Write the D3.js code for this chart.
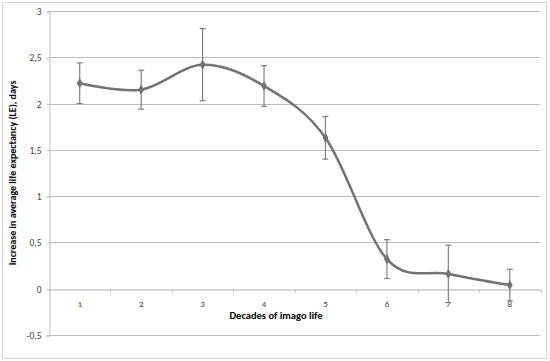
<!DOCTYPE html>
<html><head><meta charset="utf-8">
<script src="https://cdn.jsdelivr.net/npm/d3@7"></script>
<style>body{margin:0;background:#fff}svg{display:block}</style>
</head><body>
<script>
const categories = ["1","2","3","4","5","6","7","8"];
const values = [2.22, 2.15, 2.42, 2.19, 1.63, 0.32, 0.16, 0.04];
const errors = [0.22, 0.21, 0.39, 0.22, 0.23, 0.21, 0.31, 0.17];
const yTicks = [-0.5, 0, 0.5, 1, 1.5, 2, 2.5, 3];
const yTickLabels = ["-0,5","0","0,5","1","1,5","2","2,5","3"];
const xTitle = "Decades of imago life";
const yTitle = "Increase in average life expectancy (LE), days";

(function () {
const W = 550, H = 361;
const svg = d3.select("body").append("svg").attr("width", W).attr("height", H);
svg.append("rect").attr("x",2.5).attr("y",2.5).attr("width",544).attr("height",356)
  .attr("fill","#fff").attr("stroke","#d4d4d4").attr("stroke-width",1);

const pL = 49, pR = 540.5, pT = 11, pB = 335;
const x = d3.scaleBand().domain(categories).range([pL, pR]);
const y = d3.scaleLinear().domain([-0.5, 3]).range([pB, pT]);
const font = "Calibri, Carlito, 'Open Sans', sans-serif";

// gridlines
svg.append("g").selectAll("line").data(yTicks.filter(d => d !== 0)).join("line")
  .attr("x1", pL).attr("x2", pR)
  .attr("y1", d => Math.round(y(d)) + 0.5).attr("y2", d => Math.round(y(d)) + 0.5)
  .attr("stroke", "#bdbdbd").attr("stroke-width", 1);

// y axis
const yAxis = d3.axisLeft(y).tickValues(yTicks).tickSize(3)
  .tickFormat((d,i) => yTickLabels[i]);
const gy = svg.append("g").attr("transform", `translate(${pL + 0.5},0.5)`).call(yAxis);
gy.select(".domain").attr("stroke", "#bdbdbd");
gy.selectAll(".tick line").attr("stroke", "#bdbdbd");
gy.selectAll(".tick text").attr("fill", "#404040").attr("font-size", 9.5)
  .attr("font-family", font).attr("x", -8);

// x axis at zero
const xAxis = d3.axisBottom(x).tickSize(0).tickPadding(11);
const gx = svg.append("g").attr("transform", `translate(0,${Math.round(y(0)) + 0.5})`).call(xAxis);
gx.select(".domain").attr("stroke", "#c8c8c8").attr("stroke-width", 1.5);
gx.selectAll(".tick text").attr("fill", "#404040").attr("font-size", 9).attr("font-family", font);
gx.append("g").selectAll("line").data(d3.range(categories.length + 1)).join("line")
  .attr("x1", i => Math.round(pL + i * x.step()) + 0.5)
  .attr("x2", i => Math.round(pL + i * x.step()) + 0.5)
  .attr("y1", 0).attr("y2", 3).attr("stroke", "#bdbdbd");

// error bars
const eb = svg.append("g").attr("stroke", "#808080").attr("stroke-width", 1.2);
categories.forEach((c, i) => {
  const cx = x(c) + x.bandwidth() / 2;
  const y1 = y(values[i] + errors[i]), y2 = y(values[i] - errors[i]);
  eb.append("line").attr("x1", cx).attr("x2", cx).attr("y1", y1).attr("y2", y2);
  eb.append("line").attr("x1", cx - 3).attr("x2", cx + 3).attr("y1", y1).attr("y2", y1);
  eb.append("line").attr("x1", cx - 3).attr("x2", cx + 3).attr("y1", y2).attr("y2", y2);
});

// smooth line
const line = d3.line()
  .x((d, i) => x(categories[i]) + x.bandwidth() / 2)
  .y(d => y(d))
  .curve(d3.curveCatmullRom.alpha(0));
svg.append("path").datum(values).attr("d", line)
  .attr("fill", "none").attr("stroke", "#737373").attr("stroke-width", 2.5);

// diamond markers
svg.append("g").selectAll("path").data(values).join("path")
  .attr("d", d3.symbol(d3.symbolDiamond, 30))
  .attr("transform", (d, i) => `translate(${x(categories[i]) + x.bandwidth() / 2},${y(d)})`)
  .attr("fill", "#737373");

// titles
svg.append("text").attr("x", 276).attr("y", 318.5).attr("text-anchor", "middle")
  .attr("font-family", font).attr("font-weight", "bold").attr("font-size", 10.5)
  .attr("fill", "#000").text(xTitle);
svg.append("text").attr("transform", `translate(16,${(pT + pB) / 2}) rotate(-90)`)
  .attr("text-anchor", "middle").attr("font-family", font).attr("font-weight", "bold")
  .attr("font-size", 10).attr("fill", "#000").text(yTitle);
})();
</script>
</body></html>
